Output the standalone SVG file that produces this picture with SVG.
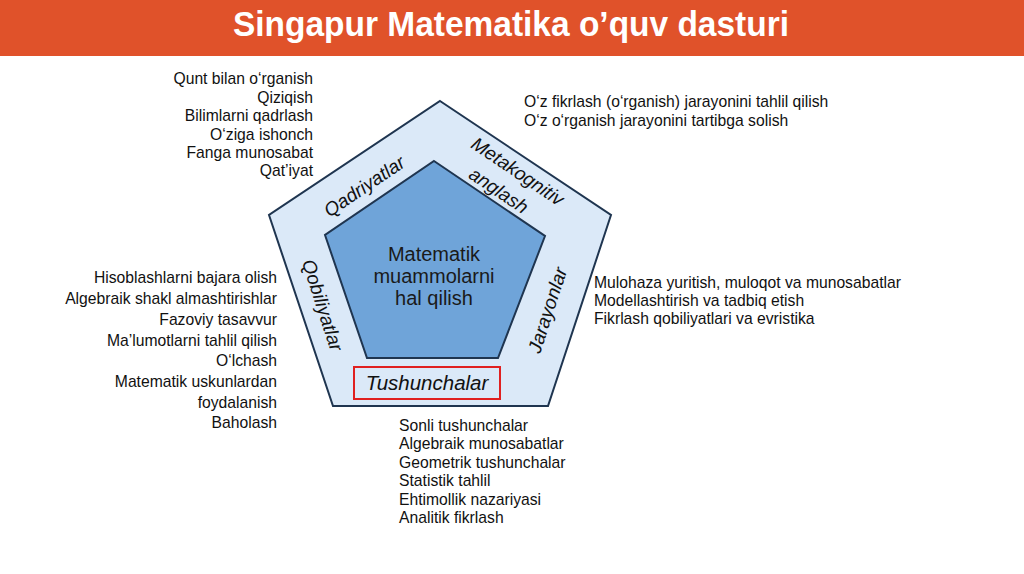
<svg xmlns="http://www.w3.org/2000/svg" width="1024" height="574" viewBox="0 0 1024 574">
<style>
.t{font-family:"Liberation Sans",Arial,sans-serif;font-size:15.7px;fill:#111}
.r{text-anchor:end}
.lab{font-family:"Liberation Sans",Arial,sans-serif;font-size:19px;font-style:italic;fill:#111;text-anchor:middle}
.ctr{font-family:"Liberation Sans",Arial,sans-serif;font-size:20px;fill:#1a1a1a;text-anchor:middle}
.pent{stroke:#1f3550;stroke-width:2;stroke-linejoin:miter}
</style>
<rect x="0" y="0" width="1024" height="574" fill="#ffffff"/>
<g id="title">
<rect x="0" y="0" width="1024" height="56" fill="#e0522a"/>
<text x="511" y="36" font-family="Liberation Sans,Arial,sans-serif" font-size="35" font-weight="bold" fill="#ffffff" text-anchor="middle" textLength="556" lengthAdjust="spacingAndGlyphs">Singapur Matematika o’quv dasturi</text>
</g>
<g id="outer-pentagon">
<polygon class="pent" points="440,101 611,215 548,406 333,406 269,215" fill="#dbe9f8"/>
</g>
<g id="inner-pentagon">
<polygon class="pent" points="434,161 545,236 498,358 367,358 325,235" fill="#6fa4d9"/>
<text class="ctr" x="434" y="261">Matematik</text>
<text class="ctr" x="434" y="283">muammolarni</text>
<text class="ctr" x="434" y="305">hal qilish</text>
</g>
<g id="label-qadriyatlar">
<text class="lab" transform="translate(364,186) rotate(-34)" y="7">Qadriyatlar</text>
</g>
<g id="label-metakognitiv">
<text class="lab" transform="translate(518,171) rotate(34)" y="7">Metakognitiv</text>
<text class="lab" transform="translate(499,190) rotate(34)" y="7">anglash</text>
</g>
<g id="label-qobiliyatlar">
<text class="lab" transform="translate(323,305) rotate(72)" y="7">Qobiliyatlar</text>
</g>
<g id="label-jarayonlar">
<text class="lab" transform="translate(547,310) rotate(-72)" y="7">Jarayonlar</text>
</g>
<g id="label-tushunchalar">
<rect x="354" y="367" width="146" height="32" fill="#dbe9f8" stroke="#e02020" stroke-width="2"/>
<text class="lab" x="427" y="390" style="font-size:20.5px">Tushunchalar</text>
</g>
<g id="list-qadriyatlar">
<text class="t r" x="313" y="84">Qunt bilan o‘rganish</text>
<text class="t r" x="313" y="102.5">Qiziqish</text>
<text class="t r" x="313" y="121">Bilimlarni qadrlash</text>
<text class="t r" x="313" y="139.5">O‘ziga ishonch</text>
<text class="t r" x="313" y="158">Fanga munosabat</text>
<text class="t r" x="313" y="176">Qat’iyat</text>
</g>
<g id="list-metakognitiv">
<text class="t" x="524" y="107">O‘z fikrlash (o‘rganish) jarayonini tahlil qilish</text>
<text class="t" x="524" y="126">O‘z o‘rganish jarayonini tartibga solish</text>
</g>
<g id="list-qobiliyatlar">
<text class="t r" x="277" y="283">Hisoblashlarni bajara olish</text>
<text class="t r" x="277" y="304">Algebraik shakl almashtirishlar</text>
<text class="t r" x="277" y="325">Fazoviy tasavvur</text>
<text class="t r" x="277" y="345.5">Ma’lumotlarni tahlil qilish</text>
<text class="t r" x="277" y="366">O‘lchash</text>
<text class="t r" x="277" y="387">Matematik uskunlardan</text>
<text class="t r" x="277" y="408">foydalanish</text>
<text class="t r" x="277" y="428">Baholash</text>
</g>
<g id="list-jarayonlar">
<text class="t" x="594" y="288">Mulohaza yuritish, muloqot va munosabatlar</text>
<text class="t" x="594" y="306">Modellashtirish va tadbiq etish</text>
<text class="t" x="594" y="324">Fikrlash qobiliyatlari va evristika</text>
</g>
<g id="list-tushunchalar">
<text class="t" x="399" y="431">Sonli tushunchalar</text>
<text class="t" x="399" y="449">Algebraik munosabatlar</text>
<text class="t" x="399" y="468">Geometrik tushunchalar</text>
<text class="t" x="399" y="486">Statistik tahlil</text>
<text class="t" x="399" y="505">Ehtimollik nazariyasi</text>
<text class="t" x="399" y="523">Analitik fikrlash</text>
</g>
<g id="connectors"></g>
</svg>
